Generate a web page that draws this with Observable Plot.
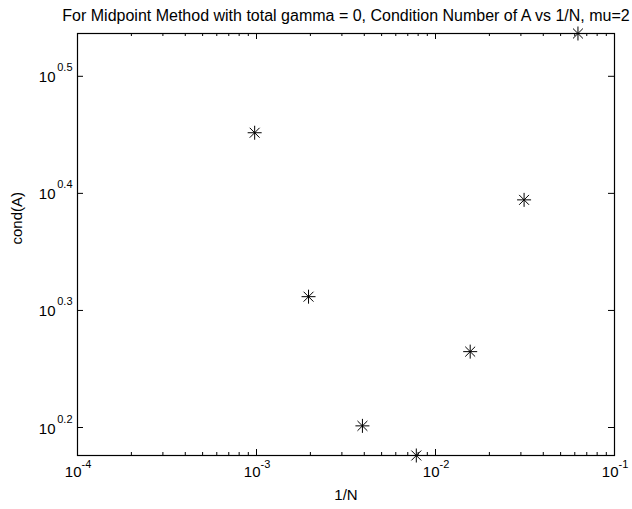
<!DOCTYPE html>
<html>
<head>
<meta charset="utf-8">
<script src="https://cdn.jsdelivr.net/npm/d3@7"></script>
<script src="https://cdn.jsdelivr.net/npm/@observablehq/plot@0.6"></script>
<style>
  body { margin: 0; background: #fff; }
  #chart svg { display: block; }
</style>
</head>
<body>
<div id="chart"></div>
<script>
// Step size 1/N and the condition number of A for each grid
const invN = [1 / 1024, 1 / 512, 1 / 256, 1 / 128, 1 / 64, 1 / 32, 1 / 16];
const condA = [2.83, 2.05, 1.59, 1.50, 1.84, 2.48, 3.44];

// Decade tick exponents on each axis
const xTickExponents = [-4, -3, -2, -1];
const xTickLabels = ["-4", "-3", "-2", "-1"];
const yTickExponents = [0.2, 0.3, 0.4, 0.5];
const yTickLabels = ["0.2", "0.3", "0.4", "0.5"];
const minorMultipliers = [2, 3, 4, 5, 6, 7, 8, 9];

const titleText = "For Midpoint Method with total gamma = 0, Condition Number of A vs 1/N, mu=2";
const xLabel = "1/N";
const yLabel = "cond(A)";

const width = 632, height = 509;
const marginLeft = 77, marginRight = 18, marginTop = 33, marginBottom = 54;
const frameW = width - marginLeft - marginRight;
const frameH = height - marginTop - marginBottom;
const majorLen = 6, minorLen = 3;
const font = "'Liberation Sans', Arial, Helvetica, sans-serif";

const points = invN.map((x, i) => ({x, y: condA[i]}));
const xMajor = xTickExponents.map((e, i) => ({v: 10 ** e, label: xTickLabels[i]}));
const yMajor = yTickExponents.map((e, i) => ({v: 10 ** e, label: yTickLabels[i]}));
const xMinor = xTickExponents.slice(0, -1).flatMap(e => minorMultipliers.map(m => m * 10 ** e));

// Eight-spoke asterisk marker
const asterisk = {
  draw(context, size) {
    const r = Math.sqrt(size / Math.PI);
    const d = r * Math.SQRT1_2;
    context.moveTo(-r, 0); context.lineTo(r, 0);
    context.moveTo(0, -r); context.lineTo(0, r);
    context.moveTo(-d, -d); context.lineTo(d, d);
    context.moveTo(-d, d); context.lineTo(d, -d);
  }
};

const chart = Plot.plot({
  width, height, marginLeft, marginRight, marginTop, marginBottom,
  style: {fontFamily: font, background: "#fff", color: "#000"},
  x: {type: "log", domain: [1e-4, 1e-1], axis: null},
  y: {type: "log", domain: d3.extent(condA), axis: null},
  marks: [
    Plot.frame({stroke: "#000", strokeWidth: 1.2}),
    // inward ticks on all four sides
    Plot.tickX(xMajor, {x: "v", insetTop: frameH - majorLen, stroke: "#000"}),
    Plot.tickX(xMajor, {x: "v", insetBottom: frameH - majorLen, stroke: "#000"}),
    Plot.tickX(xMinor, {x: d => d, insetTop: frameH - minorLen, stroke: "#000"}),
    Plot.tickX(xMinor, {x: d => d, insetBottom: frameH - minorLen, stroke: "#000"}),
    Plot.tickY(yMajor, {y: "v", insetRight: frameW - majorLen, stroke: "#000"}),
    Plot.tickY(yMajor, {y: "v", insetLeft: frameW - majorLen, stroke: "#000"}),
    // x tick labels: 10 with a raised exponent
    Plot.text(xMajor, {x: "v", frameAnchor: "bottom", text: () => "10", textAnchor: "end",
      dx: 4, dy: 21, lineAnchor: "bottom", fontSize: 15, fill: "#000"}),
    Plot.text(xMajor, {x: "v", frameAnchor: "bottom", text: "label", textAnchor: "start",
      dx: 4, dy: 12, lineAnchor: "bottom", fontSize: 11, fill: "#000"}),
    // y tick labels
    Plot.text(yMajor, {y: "v", frameAnchor: "left", text: () => "10", textAnchor: "end",
      dx: -22, dy: 6, lineAnchor: "bottom", fontSize: 15, fill: "#000"}),
    Plot.text(yMajor, {y: "v", frameAnchor: "left", text: "label", textAnchor: "end",
      dx: -5, dy: -5, lineAnchor: "bottom", fontSize: 11, fill: "#000"}),
    // axis labels and title
    Plot.text([xLabel], {frameAnchor: "bottom", text: d => d, dy: 44, lineAnchor: "bottom",
      fontSize: 15, fill: "#000"}),
    Plot.text([yLabel], {frameAnchor: "left", text: d => d, rotate: -90, dx: -56,
      lineAnchor: "bottom", fontSize: 15, fill: "#000"}),
    Plot.text([titleText], {frameAnchor: "top", text: d => d, dy: -13, lineAnchor: "bottom",
      fontSize: 16, fill: "#000"}),
    // data
    Plot.dot(points, {x: "x", y: "y", symbol: asterisk, r: 7, stroke: "#000", fill: "none", strokeWidth: 1})
  ]
});
document.getElementById("chart").appendChild(chart);
</script>
</body>
</html>
